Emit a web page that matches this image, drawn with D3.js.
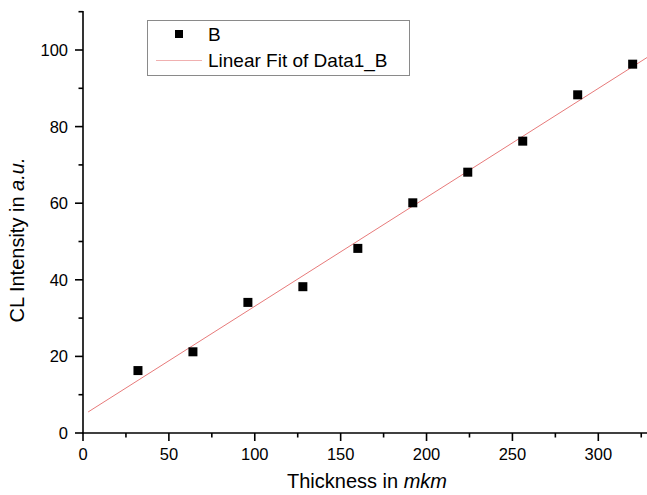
<!DOCTYPE html>
<html>
<head>
<meta charset="utf-8">
<script src="https://cdn.jsdelivr.net/npm/d3@7"></script>
<style>
  html, body { margin: 0; padding: 0; background: #fff; }
  svg { display: block; }
  text { font-family: Arial, "Liberation Sans", sans-serif; fill: #000; }
</style>
</head>
<body>
<svg id="chart" width="647" height="495"></svg>
<script>
// ---- data ----
const thickness = [32, 64, 96, 128, 160, 192, 224, 256, 288, 320];
const intensity = [16.3, 21.2, 34.1, 38.2, 48.2, 60.1, 68.1, 76.2, 88.3, 96.3];
const xTicks = [0, 50, 100, 150, 200, 250, 300];
const xMinorTicks = [25, 75, 125, 175, 225, 275, 325];
const yTicks = [0, 20, 40, 60, 80, 100];
const yMinorTicks = [10, 30, 50, 70, 90, 110];
const fitRange = [3, 330];
const legendLabels = ["B", "Linear Fit of Data1_B"];

// ---- layout ----
const svg = d3.select("#chart");
const x = d3.scaleLinear().domain([0, 328]).range([83, 646.4]);
const y = d3.scaleLinear().domain([0, 110]).range([433, 11.7]);

// linear regression (fit line)
const mx = d3.mean(thickness), my = d3.mean(intensity);
let sxy = 0, sxx = 0;
thickness.forEach((t, i) => { sxy += (t - mx) * (intensity[i] - my); sxx += (t - mx) ** 2; });
const slope = sxy / sxx, intercept = my - slope * mx;

svg.append("defs").append("clipPath").attr("id", "clip")
  .append("rect").attr("x", 83).attr("y", 11).attr("width", 564).attr("height", 422);

const fitColor = "#e77a7a";

// fit line
svg.append("line")
  .attr("clip-path", "url(#clip)")
  .attr("x1", x(fitRange[0])).attr("y1", y(intercept + slope * fitRange[0]))
  .attr("x2", x(fitRange[1])).attr("y2", y(intercept + slope * fitRange[1]))
  .attr("stroke", fitColor).attr("stroke-width", 1);

// points
const sz = 9;
svg.selectAll("rect.pt").data(thickness).enter().append("rect")
  .attr("class", "pt")
  .attr("x", (d) => x(d) - sz / 2)
  .attr("y", (d, i) => y(intensity[i]) - sz / 2)
  .attr("width", sz).attr("height", sz)
  .attr("fill", "#000");

// axes
const axisColor = "#000";
const xAxis = svg.append("g").attr("transform", "translate(0,433)");
xAxis.append("line").attr("x1", 82).attr("x2", 647).attr("y1", 0).attr("y2", 0)
  .attr("stroke", axisColor).attr("stroke-width", 1.6);
xAxis.selectAll("line.maj").data(xTicks).enter().append("line")
  .attr("x1", d => x(d)).attr("x2", d => x(d)).attr("y1", 0).attr("y2", 8)
  .attr("stroke", axisColor).attr("stroke-width", 1.6);
xAxis.selectAll("line.min").data(xMinorTicks).enter().append("line")
  .attr("x1", d => x(d)).attr("x2", d => x(d)).attr("y1", 0).attr("y2", 4.5)
  .attr("stroke", axisColor).attr("stroke-width", 1.6);
xAxis.selectAll("text").data(xTicks).enter().append("text")
  .attr("x", d => x(d)).attr("y", 27)
  .attr("text-anchor", "middle").attr("font-size", 16.5)
  .text(d => d);

const yAxis = svg.append("g").attr("transform", "translate(83,0)");
yAxis.append("line").attr("x1", 0).attr("x2", 0).attr("y1", 11).attr("y2", 434)
  .attr("stroke", axisColor).attr("stroke-width", 1.6);
yAxis.selectAll("line.maj").data(yTicks).enter().append("line")
  .attr("x1", -8).attr("x2", 0).attr("y1", d => y(d)).attr("y2", d => y(d))
  .attr("stroke", axisColor).attr("stroke-width", 1.6);
yAxis.selectAll("line.min").data(yMinorTicks).enter().append("line")
  .attr("x1", -4.5).attr("x2", 0).attr("y1", d => y(d)).attr("y2", d => y(d))
  .attr("stroke", axisColor).attr("stroke-width", 1.6);
yAxis.selectAll("text").data(yTicks).enter().append("text")
  .attr("x", -15).attr("y", d => y(d) + 6)
  .attr("text-anchor", "end").attr("font-size", 16.5)
  .text(d => d);

// axis titles
const xt = svg.append("text").attr("x", 367).attr("y", 488)
  .attr("text-anchor", "middle").attr("font-size", 20);
xt.append("tspan").text("Thickness in ");
xt.append("tspan").attr("font-style", "italic").text("mkm");

const yt = svg.append("text")
  .attr("transform", "translate(24,240) rotate(-90)")
  .attr("text-anchor", "middle").attr("font-size", 20);
yt.append("tspan").text("CL Intensity in ");
yt.append("tspan").attr("font-style", "italic").text("a.u.");

// legend
const lg = svg.append("g");
lg.append("rect").attr("x", 147.5).attr("y", 20.5).attr("width", 262).attr("height", 55)
  .attr("fill", "#fff").attr("stroke", "#8a8a8a").attr("stroke-width", 1);
lg.append("rect").attr("x", 175).attr("y", 30).attr("width", 8).attr("height", 8).attr("fill", "#000");
lg.append("text").attr("x", 208).attr("y", 41).attr("font-size", 19).text(legendLabels[0]);
lg.append("line").attr("x1", 156).attr("x2", 202).attr("y1", 60.5).attr("y2", 60.5)
  .attr("stroke", "#f0b0b0").attr("stroke-width", 1);
lg.append("text").attr("x", 208).attr("y", 67).attr("font-size", 19).text(legendLabels[1]);
</script>
</body>
</html>
